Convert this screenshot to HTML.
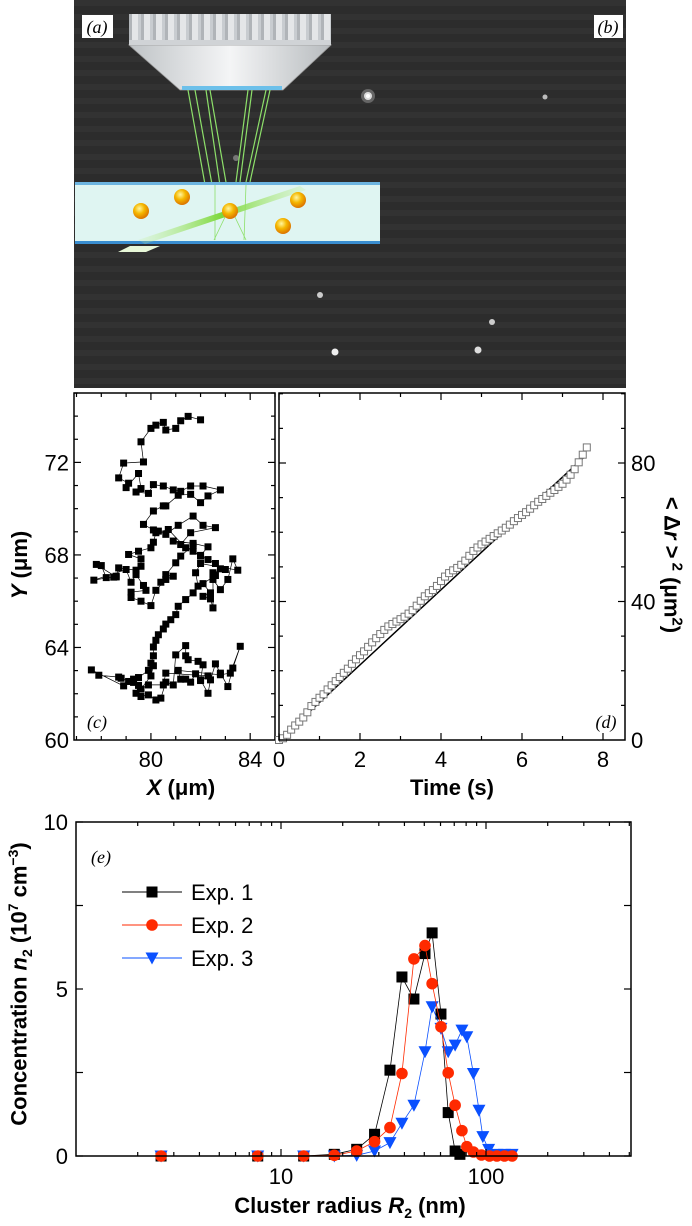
<!DOCTYPE html>
<html><head><meta charset="utf-8">
<style>
html,body{margin:0;padding:0;background:#fff;}
svg{display:block;font-family:"Liberation Sans",sans-serif;}
</style></head>
<body>
<svg id="fig" width="692" height="1226" viewBox="0 0 692 1226">
<defs>
<radialGradient id="ball" cx="0.4" cy="0.35" r="0.7">
<stop offset="0" stop-color="#fff6a0"/><stop offset="0.45" stop-color="#f5b800"/><stop offset="1" stop-color="#d86a00"/>
</radialGradient>
<linearGradient id="obj" x1="0" x2="1">
<stop offset="0" stop-color="#bfc3c6"/><stop offset="0.5" stop-color="#f4f5f6"/><stop offset="1" stop-color="#b8bcbf"/>
</linearGradient>
<linearGradient id="beam" x1="0" x2="1">
<stop offset="0" stop-color="#c8f0a0" stop-opacity="0.2"/><stop offset="0.5" stop-color="#7cd83a"/><stop offset="1" stop-color="#c8f0a0" stop-opacity="0.3"/>
</linearGradient>
<pattern id="stripes" width="10" height="14" patternUnits="userSpaceOnUse">
<rect width="10" height="14" fill="#2c2c2c"/><rect y="0" width="10" height="6" fill="#323232"/>
</pattern>
<pattern id="ridges" width="12" height="40" patternUnits="userSpaceOnUse" x="129">
<rect width="12" height="40" fill="#e4e6e8"/><rect x="0" width="3" height="40" fill="#b0b4b8"/><rect x="9" width="3" height="40" fill="#c8ccd0"/>
</pattern>
</defs>

<g>
<rect x="74" y="0" width="552" height="388" fill="url(#stripes)"/>
<g>
<circle cx="368" cy="96" r="7" fill="#666"/><circle cx="368" cy="96" r="4" fill="#ddd"/><circle cx="368" cy="96" r="2" fill="#fff"/>
<circle cx="545" cy="97" r="2.5" fill="#bbb"/>
<circle cx="320" cy="295" r="3" fill="#ccc"/>
<circle cx="492" cy="322" r="3" fill="#ccc"/>
<circle cx="335" cy="352" r="3.5" fill="#eee"/>
<circle cx="478" cy="350" r="3.5" fill="#ddd"/>
<circle cx="236" cy="158" r="3" fill="#777"/>
</g>
<g>
<path d="M129,45 h202 l-48,45 h-103 z" fill="url(#obj)" stroke="#999" stroke-width="0.8"/>
<rect x="129" y="14" width="202" height="31" fill="url(#ridges)"/>
<rect x="129" y="40" width="202" height="5" fill="#d0d3d6"/>
<rect x="182" y="86" width="100" height="4" fill="#6cc0ea"/>
<g stroke="#8de06a" stroke-width="1.2" fill="none">
<line x1="188" y1="90" x2="215" y2="240"/><line x1="195" y1="90" x2="222" y2="240"/>
<line x1="206" y1="90" x2="228" y2="240"/><line x1="210" y1="90" x2="236" y2="240"/>
<line x1="248" y1="90" x2="236" y2="182"/><line x1="252" y1="90" x2="240" y2="182"/>
<line x1="266" y1="90" x2="246" y2="182"/><line x1="270" y1="90" x2="250" y2="182"/>
</g>
<rect x="75" y="183" width="305" height="60" fill="#dff5f2"/>
<g stroke="#8de06a" stroke-width="0.8" fill="none">
<line x1="215" y1="185" x2="215" y2="240"/><line x1="246" y1="185" x2="244" y2="240"/>
<line x1="226" y1="215" x2="214" y2="240"/><line x1="234" y1="215" x2="246" y2="240"/>
</g>
<rect x="75" y="182" width="305" height="3" fill="#6cb4e0"/>
<rect x="75" y="241" width="305" height="3" fill="#3a8ed0"/>
<path d="M138,240 L300,186 L306,190 L145,244 Z" fill="url(#beam)"/>
<path d="M118,252 L130,246 L160,246 L146,252 Z" fill="#e8f8d8"/>
<circle cx="141" cy="211" r="8" fill="url(#ball)"/>
<circle cx="182" cy="197" r="8" fill="url(#ball)"/>
<circle cx="230" cy="211" r="8" fill="url(#ball)"/>
<circle cx="298" cy="200" r="8" fill="url(#ball)"/>
<circle cx="283" cy="226" r="8" fill="url(#ball)"/>
</g>
<rect x="82" y="15" width="31" height="23" fill="#fff"/>
<text x="97" y="33" text-anchor="middle" font-family="Liberation Serif" font-size="18" font-style="italic">(a)</text>
<rect x="594" y="15" width="29" height="23" fill="#fff"/>
<text x="608" y="33" text-anchor="middle" font-family="Liberation Serif" font-size="18" font-style="italic">(b)</text>
</g>

<g id="pc"></g>
<g id="pd"></g>
<g id="pe"></g>
</svg>

<script>
const NS="http://www.w3.org/2000/svg";
function mk(parent,tag,attrs){const e=document.createElementNS(NS,tag);for(const k in attrs)e.setAttribute(k,attrs[k]);parent.appendChild(e);return e;}

// ---------- Panel c data ----------
const trajX=[82.0,81.5,81.2,81.0,80.6,80.5,80.2,80.0,79.6,79.7,78.9,78.7,79.1,79.0,79.5,79.6,79.4,79.9,80.1,80.5,80.9,81.2,81.6,82.1,82.8,82.3,82.0,81.6,81.1,80.6,80.5,80.1,79.7,80.1,80.3,80.6,81.1,81.7,82.1,82.6,81.6,81.2,80.9,81.7,82.3,82.0,81.4,80.7,80.2,80.1,80.0,79.5,79.1,79.6,79.6,79.4,78.7,78.6,77.8,78.0,78.2,78.5,78.6,77.7,79.0,79.2,79.4,79.7,79.8,79.2,79.2,79.6,80.0,80.2,80.6,80.4,80.9,80.6,81.0,81.2,81.7,81.7,82.0,82.3,82.6,82.8,83.0,82.5,82.6,82.1,82.4,82.1,82.4,82.5,82.5,82.8,83.1,83.3,83.5,82.0,81.8,81.9,81.7,81.4,81.1,81.0,80.8,80.6,80.5,80.3,80.2,80.1,80.1,80.0,79.9,79.5,79.3,79.1,78.9,77.6,77.9,78.7,78.8,79.3,79.5,79.4,79.6,79.9,80.2,80.4,80.6,80.9,81.0,81.4,81.4,81.5,81.9,82.1,82.0,82.3,82.4,82.6,82.8,83.1,83.3,83.6,83.2,82.8,81.1,81.2,81.4,81.6,81.8,82.0,82.3,80.6,80.5,79.9,79.6,80.0,80.1];
const trajY=[73.84,73.99,73.80,73.47,73.40,73.73,73.61,73.47,72.89,72.02,71.97,71.33,71.10,70.91,71.52,70.87,70.72,70.66,71.04,70.98,70.81,70.75,70.98,70.98,70.81,70.55,70.26,70.62,70.58,70.12,70.12,69.90,69.32,69.08,69.03,68.89,69.28,69.68,69.28,69.18,68.96,68.45,68.60,68.50,68.35,67.98,68.31,69.10,68.96,68.55,68.31,68.16,68.02,67.83,67.51,67.34,67.44,67.05,67.59,67.54,67.02,67.04,67.08,66.91,67.37,66.82,67.15,66.68,66.47,66.39,66.16,66.00,65.81,66.47,66.94,66.82,67.08,67.15,67.66,67.95,68.41,68.16,67.95,67.80,67.63,67.40,67.37,67.23,67.11,66.76,66.36,66.21,66.10,65.71,66.94,66.50,66.94,67.83,67.34,67.63,67.23,66.65,66.36,66.07,65.78,65.42,65.20,65.01,64.80,64.55,64.31,64.02,63.64,63.32,63.01,62.70,62.63,62.53,62.34,63.03,62.80,62.72,62.67,62.49,62.36,62.02,61.88,61.95,61.73,61.81,62.50,62.38,63.68,64.08,63.64,63.47,63.40,63.25,62.60,62.02,62.60,63.29,62.89,62.31,63.11,64.05,62.89,62.82,63.01,62.63,62.63,62.50,62.86,62.57,62.77,62.89,62.38,62.38,62.20,62.77,63.21];
const cXTicks=[80,84], cYTicks=[60,64,68,72];

// ---------- Panel d data ----------
const msdT=[0,0.1,0.2,0.3,0.4,0.5,0.6,0.7,0.8,0.9,1.0,1.1,1.2,1.3,1.4,1.5,1.6,1.7,1.8,1.9,2.0,2.1,2.2,2.3,2.4,2.5,2.6,2.7,2.8,2.9,3.0,3.1,3.2,3.3,3.4,3.5,3.6,3.7,3.8,3.9,4.0,4.1,4.2,4.3,4.4,4.5,4.6,4.7,4.8,4.9,5.0,5.1,5.2,5.3,5.4,5.5,5.6,5.7,5.8,5.9,6.0,6.1,6.2,6.3,6.4,6.5,6.6,6.7,6.8,6.9,7.0,7.1,7.2,7.3,7.4,7.5,7.6];
const msdV=[0,0.5,1.5,3,4.2,5.3,6.5,8,9.8,11,12.2,13.2,14.6,15.8,17,18.2,19.4,20.6,22,23.3,24.5,25.6,26.9,28.2,29.4,30.6,31.8,32.8,33.5,34.2,34.9,35.6,36.5,37.5,38.8,40.2,41.5,42.4,43.3,44.5,45.9,47.2,48.2,49,49.7,50.6,51.8,53.2,54.6,55.6,56.5,57.3,58.1,58.9,59.7,60.5,61.3,62.2,63.2,64.1,65,65.8,66.8,67.8,68.8,69.6,70.5,71.4,72.2,73.1,74,75.2,76.6,78.2,80.2,82.4,84.5];
const fitLine=[[0,0],[7.56,82]];
const dXTicks=[0,2,4,6,8], dYTicks=[0,40,80];

// ---------- Panel e data ----------
const exp1R=[2.6,7.7,12.9,18.2,23.4,28.6,34,38.9,44.5,50.4,54.6,60.3,65.4,70.7,74.6];
const exp1N=[0,0,0,0.05,0.2,0.65,2.57,5.36,4.7,6.06,6.68,4.25,1.3,0.15,0.05];
const exp2R=[2.6,7.7,12.9,18.2,23.4,28.6,34,38.9,44.5,50.4,54.6,60.3,65.4,70.7,76.3,80.6,86.8,95,104,113,123,134];
const exp2N=[0,0,0,0.02,0.15,0.43,0.85,2.47,5.9,6.3,5.16,3.87,2.49,1.52,0.76,0.28,0.12,0.03,0,0,0,0];
const exp3R=[2.6,7.7,12.9,18.2,23.4,28.6,34,38.9,44.5,50.4,54.6,60.3,65.4,70.7,76.3,80.6,86.8,92.4,96.5,103,113,123,134];
const exp3N=[0,0,0,0,0.02,0.15,0.4,0.98,1.52,3.12,4.47,3.82,3.12,3.32,3.77,3.57,2.47,1.37,0.58,0.2,0.05,0.05,0.05];
const eYTicks=[0,5,10], eXTicks=[10,100];

// ===== Panel c =====
(function(){
 const g=document.getElementById('pc');
 const L=74,R=275,T=393,B=740;
 const x=v=>L+(v-76.9)*(R-L)/(85.0-76.9);
 const y=v=>B-(v-60)*(B-T)/(75.0-60);
 let d='';trajX.forEach((v,i)=>{d+=(i?'L':'M')+x(v).toFixed(1)+','+y(trajY[i]).toFixed(1);});
 const p=mk(g,'path',{d:d,fill:'none',stroke:'#000','stroke-width':0.7});
 
 
 trajX.forEach((v,i)=>{const r=mk(g,'rect',{x:x(v)-3.5,y:y(trajY[i])-3.5,width:7,height:7,fill:'#000'});
  
  });
 const f=mk(g,'rect',{x:L,y:T,width:R-L,height:B-T,fill:'none',stroke:'#000','stroke-width':1.5});
 
 
 for(let v=61;v<=75;v++){const mj=cYTicks.includes(v);const l=mj?7:4;
  mk(g,'line',{x1:L,x2:L+l,y1:y(v),y2:y(v),stroke:'#000','stroke-width':1.2});
  mk(g,'line',{x1:R,x2:R-l,y1:y(v),y2:y(v),stroke:'#000','stroke-width':1.2});}
 for(let v=77;v<=85;v++){const mj=cXTicks.includes(v);const l=mj?7:4;
  mk(g,'line',{x1:x(v),x2:x(v),y1:B,y2:B-l,stroke:'#000','stroke-width':1.2});
  mk(g,'line',{x1:x(v),x2:x(v),y1:T,y2:T+l,stroke:'#000','stroke-width':1.2});}
 cYTicks.forEach(v=>{const t=mk(g,'text',{x:L-5,y:y(v)+8,'text-anchor':'end','font-size':22});t.textContent=v;
  
  });
 cXTicks.forEach(v=>{const t=mk(g,'text',{x:x(v),y:B+27,'text-anchor':'middle','font-size':22});t.textContent=v;
  
  });
 const lb=mk(g,'text',{x:97,y:728,'text-anchor':'middle','font-family':'Liberation Serif','font-size':18,'font-style':'italic'});lb.textContent='(c)';
 
 
})();

// ===== Panel d =====
(function(){
 const g=document.getElementById('pd');
 const L=279,R=625,T=393,B=740;
 const x=v=>L+v*(603-279)/8;
 const y=v=>B-v*(B-463)/80;
 const fl=mk(g,'line',{x1:x(fitLine[0][0]),y1:y(fitLine[0][1]),x2:x(fitLine[1][0]),y2:y(fitLine[1][1]),stroke:'#000','stroke-width':1.5});
 
 
 msdT.forEach((t,i)=>{const r=mk(g,'rect',{x:x(t)-3.5,y:y(msdV[i])-3.5,width:7,height:7,fill:'#fff',stroke:'#777','stroke-width':1});
  
  });
 const f=mk(g,'rect',{x:L,y:T,width:R-L,height:B-T,fill:'none',stroke:'#000','stroke-width':1.5});
 
 
 for(let v=0;v<=8;v++){const l=dXTicks.includes(v)?7:4;
  mk(g,'line',{x1:x(v),x2:x(v),y1:B,y2:B-l,stroke:'#000','stroke-width':1.2});
  mk(g,'line',{x1:x(v),x2:x(v),y1:T,y2:T+l,stroke:'#000','stroke-width':1.2});}
 for(let v=10;v<=100;v+=10){const l=dYTicks.includes(v)?7:4;
  mk(g,'line',{x1:L,x2:L+l,y1:y(v),y2:y(v),stroke:'#000','stroke-width':1.2});
  mk(g,'line',{x1:R,x2:R-l,y1:y(v),y2:y(v),stroke:'#000','stroke-width':1.2});}
 dXTicks.forEach(v=>{const t=mk(g,'text',{x:x(v),y:B+27,'text-anchor':'middle','font-size':22});t.textContent=v;
  
  });
 dYTicks.forEach(v=>{const t=mk(g,'text',{x:R+6,y:y(v)+8,'text-anchor':'start','font-size':22});t.textContent=v;
  
  });
 const lb=mk(g,'text',{x:606,y:728,'text-anchor':'middle','font-family':'Liberation Serif','font-size':18,'font-style':'italic'});lb.textContent='(d)';
 
 
})();

// ===== Panel e =====
(function(){
 const g=document.getElementById('pe');
 const L=76,R=631,T=822,B=1156;
 const x=v=>L+Math.log10(v)*205;
 const y=v=>B-v*(B-T)/10;
 const series=[[exp1R,exp1N,'#000','sq','exp1'],[exp2R,exp2N,'#ff2a00','ci','exp2'],[exp3R,exp3N,'#0a50ff','tr','exp3']];
 function marker(par,k,cx,cy,c){
  if(k==='sq')return mk(par,'rect',{x:cx-5.5,y:cy-5.5,width:11,height:11,fill:c});
  if(k==='ci')return mk(par,'circle',{cx:cx,cy:cy,r:5.8,fill:c});
  return mk(par,'path',{d:`M${cx-6.5},${cy-5.5}L${cx+6.5},${cy-5.5}L${cx},${cy+6.5}Z`,fill:c});
 }
 [series[0],series[2],series[1]].forEach(s=>{
  let d='';s[0].forEach((r,i)=>{d+=(i?'L':'M')+x(r).toFixed(1)+','+y(s[1][i]).toFixed(1);});
  const p=mk(g,'path',{d:d,fill:'none',stroke:s[2],'stroke-width':0.8});
  
  
  s[0].forEach((r,i)=>{const m=marker(g,s[3],x(r),y(s[1][i]),s[2]);
   
   });
 });
 const f=mk(g,'rect',{x:L,y:T,width:R-L,height:B-T,fill:'none',stroke:'#000','stroke-width':1.5});
 
 
 [0,2.5,5,7.5,10].forEach(v=>{
  mk(g,'line',{x1:L,x2:L+7,y1:y(v),y2:y(v),stroke:'#000','stroke-width':1.2});
  mk(g,'line',{x1:R,x2:R-7,y1:y(v),y2:y(v),stroke:'#000','stroke-width':1.2});});
 for(let dec=1;dec<=100;dec*=10){for(let k=1;k<10;k++){const v=dec*k;if(v>500)break;const xx=x(v);if(xx<=L+0.5)continue;const l=k===1?7:4;
  mk(g,'line',{x1:xx,x2:xx,y1:B,y2:B-l,stroke:'#000','stroke-width':1.2});
  mk(g,'line',{x1:xx,x2:xx,y1:T,y2:T+l,stroke:'#000','stroke-width':1.2});}}
 eYTicks.forEach(v=>{const t=mk(g,'text',{x:L-8,y:y(v)+8,'text-anchor':'end','font-size':22});t.textContent=v;
  
  });
 eXTicks.forEach(v=>{const t=mk(g,'text',{x:x(v),y:B+28,'text-anchor':'middle','font-size':22});t.textContent=v;
  
  });
 const lb=mk(g,'text',{x:101,y:863,'text-anchor':'middle','font-family':'Liberation Serif','font-size':18,'font-style':'italic'});lb.textContent='(e)';
 
 
 const names=['Exp. 1','Exp. 2','Exp. 3'];
 series.forEach((s,i)=>{const yy=892+i*33;
  const lg=mk(g,'g',{});
  
  
  mk(lg,'line',{x1:122,x2:182,y1:yy,y2:yy,stroke:s[2],'stroke-width':1});
  marker(lg,s[3],152,yy,s[2]);
  const t=mk(lg,'text',{x:191,y:yy+8,'font-size':22});t.textContent=names[i];});
})();
</script>

<div style="position:absolute;left:0;top:0;width:692px;height:1226px;pointer-events:none;font-family:'Liberation Sans',sans-serif;font-weight:bold;font-size:22px;color:#000;">
<div style="position:absolute;left:20px;top:565px;transform:translate(-50%,-50%) rotate(-90deg);white-space:nowrap;"><i>Y</i> (μm)</div>
<div style="position:absolute;left:181px;top:788px;transform:translate(-50%,-50%);white-space:nowrap;"><i>X</i> (μm)</div>
<div style="position:absolute;left:452px;top:788px;transform:translate(-50%,-50%);white-space:nowrap;">Time (s)</div>
<div style="position:absolute;left:672px;top:565px;transform:translate(-50%,-50%) rotate(90deg);white-space:nowrap;">&lt; Δ<i>r</i> &gt;<sup style="font-size:15px"> 2</sup> (μm<sup style="font-size:15px">2</sup>)</div>
<div style="position:absolute;left:20px;top:984px;transform:translate(-50%,-50%) rotate(-90deg);white-space:nowrap;">Concentration <i>n</i><sub style="font-size:14px">2</sub> (10<sup style="font-size:14px">7</sup> cm<sup style="font-size:14px">−3</sup>)</div>
<div style="position:absolute;left:350px;top:1207px;transform:translate(-50%,-50%);white-space:nowrap;">Cluster radius <i>R</i><sub style="font-size:14px">2</sub> (nm)</div>
</div>
</body></html>
